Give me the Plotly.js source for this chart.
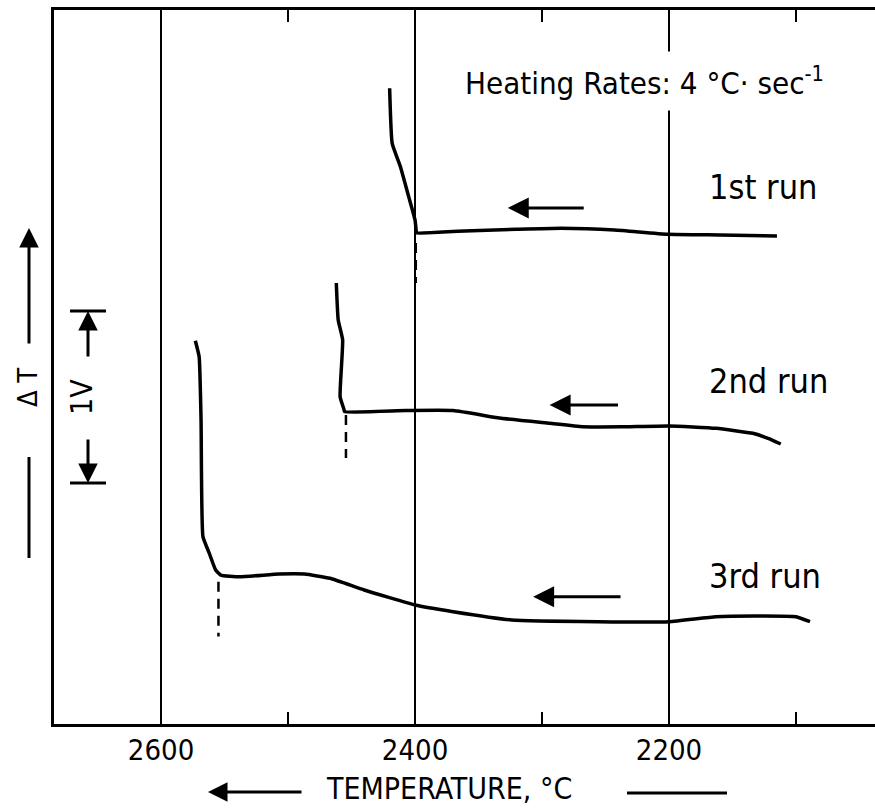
<!DOCTYPE html>
<html>
<head>
<meta charset="utf-8">
<script src="https://cdn.plot.ly/plotly-3.0.1.min.js"></script>
<style>html,body{margin:0;padding:0;background:#fff;}#chart{width:875px;height:809px;}</style>
</head>
<body>
<div id="chart"></div>
<script>
// ---- data (temperature in °C, ΔT signal in volts; 1 V scale bar) ----
const tickTemps = [2600, 2400, 2200];
const tickLabels = ['2600', '2400', '2200'];

const run1T = [2420, 2418, 2411.5, 2405, 2400, 2399, 2398.7, 2378, 2355, 2320, 2285, 2243, 2201, 2160, 2115];
const run1V = [3.696, 3.376, 3.240, 3.066, 2.930, 2.862, 2.855, 2.860, 2.868, 2.876, 2.882, 2.872, 2.847, 2.843, 2.837];

const run2T = [2462, 2460.5, 2457, 2459, 2456, 2455.5, 2407, 2370, 2332, 2294, 2268, 2238, 2200, 2163, 2134, 2122, 2112];
const run2V = [2.564, 2.349, 2.233, 1.903, 1.830, 1.816, 1.822, 1.822, 1.777, 1.748, 1.728, 1.728, 1.733, 1.719, 1.690, 1.661, 1.628];

const run3T = [2573, 2570, 2568.5, 2567, 2562, 2557, 2553, 2538, 2507, 2487, 2467, 2440, 2400, 2370, 2324, 2256, 2200, 2163, 2126, 2100, 2089];
const run3V = [2.228, 2.135, 1.767, 1.089, 0.992, 0.895, 0.866, 0.856, 0.872, 0.872, 0.847, 0.779, 0.692, 0.653, 0.605, 0.595, 0.595, 0.624, 0.628, 0.624, 0.595];

const onsetT = [2399.4, 2454.4, 2554.8];
const onsetTop = [2.797, 1.797, 0.827];
const onsetBottom = [2.564, 1.547, 0.508];

const runLabels = ['1st run', '2nd run', '3rd run'];
const scaleBarV = [1.401, 2.401]; // 1 V span

// ---- layout helpers (pixel -> paper) ----
const W = 875, H = 809, ML = 54, MR = 0, MT = 10, MB = 85;
const PW = W - ML - MR, PH = H - MT - MB;
const px = p => (p - ML) / PW;
const py = p => (H - MB - p) / PH;

const FONT = '"DejaVu Sans Condensed", "Liberation Sans Narrow", "DejaVu Sans", sans-serif';
const LINE = {color: 'black', width: 3};
const CURVE = {color: 'black', width: 3.5, shape: 'spline', smoothing: 0.4};

const traces = [
  {x: run1T, y: run1V, mode: 'lines', line: CURVE, name: runLabels[0]},
  {x: run2T, y: run2V, mode: 'lines', line: CURVE, name: runLabels[1]},
  {x: run3T, y: run3V, mode: 'lines', line: CURVE, name: runLabels[2]}
];
onsetT.forEach((t, i) => {
  traces.push({x: [t, t], y: [onsetTop[i], onsetBottom[i]], mode: 'lines',
    line: {color: 'black', width: 2.5, dash: '10px,7px'}, name: 'onset ' + (i + 1)});
});

const labelY = [187, 381, 576];
const annotations = [];
runLabels.forEach((t, i) => annotations.push({
  text: t, xref: 'paper', yref: 'paper', x: px(707), y: py(labelY[i]),
  xanchor: 'left', yanchor: 'middle', showarrow: false,
  font: {family: FONT, size: 34, color: 'black'}
}));
annotations.push({
  text: 'Heating Rates: 4 °C· sec<sup>-1</sup>', xref: 'paper', yref: 'paper',
  x: px(455), y: py(81), xanchor: 'left', yanchor: 'middle', showarrow: false,
  bgcolor: 'white', borderpad: 9, font: {family: FONT, size: 31, color: 'black'}
});
// direction arrows on the curves
[[2327, 2266, 3.0], [2294, 2239, 1.855], [2307, 2237, 0.740]].forEach(a => annotations.push({
  x: a[0], y: a[2], ax: a[1], ay: a[2], xref: 'x', yref: 'y', axref: 'x', ayref: 'y',
  text: '', showarrow: true, arrowhead: 2, arrowsize: 1.4, arrowwidth: 3, arrowcolor: 'black'
}));
// x-axis title with arrow
annotations.push({
  text: 'TEMPERATURE, °C', xref: 'paper', yref: 'paper', x: px(449), y: py(789),
  xanchor: 'center', yanchor: 'middle', showarrow: false,
  font: {family: FONT, size: 30, color: 'black'}
});
annotations.push({
  x: px(208), y: py(792), ax: 95, ay: 0, xref: 'paper', yref: 'paper',
  text: '', showarrow: true, arrowhead: 2, arrowsize: 1.3, arrowwidth: 3, arrowcolor: 'black'
});
// y-axis ΔT label with arrow
annotations.push({
  x: px(29), y: py(228), ax: 0, ay: 117, xref: 'paper', yref: 'paper',
  text: '', showarrow: true, arrowhead: 2, arrowsize: 1.3, arrowwidth: 3, arrowcolor: 'black'
});
annotations.push({
  text: 'Δ T', xref: 'paper', yref: 'paper', x: px(27), y: py(388), textangle: -90,
  xanchor: 'center', yanchor: 'middle', showarrow: false,
  font: {family: FONT, size: 27, color: 'black'}
});
// 1 V scale bar
annotations.push({
  x: px(88), y: scaleBarV[1], ax: 0, ay: 47, xref: 'paper', yref: 'y',
  text: '', showarrow: true, arrowhead: 2, arrowsize: 1.3, arrowwidth: 3, arrowcolor: 'black'
});
annotations.push({
  x: px(88), y: scaleBarV[0], ax: 0, ay: -45, xref: 'paper', yref: 'y',
  text: '', showarrow: true, arrowhead: 2, arrowsize: 1.3, arrowwidth: 3, arrowcolor: 'black'
});
annotations.push({
  text: '1V', xref: 'paper', yref: 'y', x: px(81), y: (scaleBarV[0] + scaleBarV[1]) / 2, textangle: -90,
  xanchor: 'center', yanchor: 'middle', showarrow: false,
  font: {family: FONT, size: 30, color: 'black'}
});

const shapes = [
  {type: 'line', xref: 'paper', yref: 'y', x0: px(70), x1: px(106), y0: scaleBarV[1], y1: scaleBarV[1], line: LINE},
  {type: 'line', xref: 'paper', yref: 'y', x0: px(70), x1: px(106), y0: scaleBarV[0], y1: scaleBarV[0], line: LINE},
  {type: 'line', xref: 'paper', yref: 'paper', x0: px(29), x1: px(29), y0: py(457), y1: py(558), line: LINE},
  {type: 'line', xref: 'paper', yref: 'paper', x0: px(627), x1: px(727), y0: py(793), y1: py(793), line: LINE}
];

const layout = {
  width: W, height: H,
  margin: {l: ML, r: MR, t: MT, b: MB},
  paper_bgcolor: 'white', plot_bgcolor: 'white',
  showlegend: false,
  font: {family: FONT, color: 'black'},
  xaxis: {
    range: [2684.3, 2037.8],
    tickvals: tickTemps, ticktext: tickLabels,
    showgrid: true, gridcolor: 'black', gridwidth: 2,
    ticks: 'inside', ticklen: 12, tickwidth: 2, tickcolor: 'black',
    minor: {dtick: 100, tick0: 2000, ticks: 'inside', ticklen: 12, tickwidth: 2, tickcolor: 'black', showgrid: false},
    showline: true, linecolor: 'black', linewidth: 3, mirror: 'allticks',
    zeroline: false,
    tickfont: {family: FONT, size: 29, color: 'black'},
    ticklabelstandoff: -2
  },
  yaxis: {
    range: [0, 4.151],
    showticklabels: false, ticks: '', showgrid: false, zeroline: false,
    showline: true, linecolor: 'black', linewidth: 3, mirror: false
  },
  annotations: annotations,
  shapes: shapes
};

Plotly.newPlot('chart', traces, layout, {staticPlot: true, displayModeBar: false});
</script>
</body>
</html>
